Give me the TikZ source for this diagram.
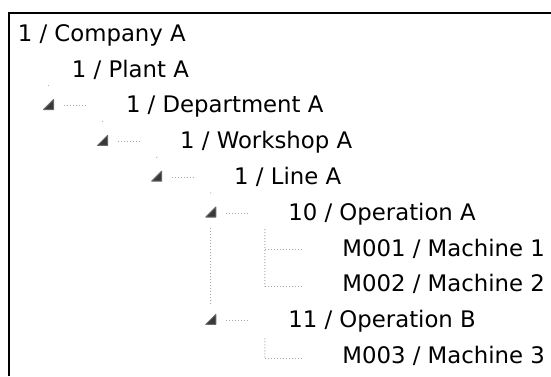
\documentclass[tikz,border=0pt]{standalone}
\usepackage{fontspec}
\setmainfont{DejaVu Sans}
\usetikzlibrary{calc}

\tikzset{
  item/.style={anchor=base west, inner sep=0pt, outer sep=0pt,
               font=\fontsize{22.8}{27}\selectfont, text=black},
  expander/.style={minimum width=11pt, minimum height=11pt, inner sep=0pt, outer sep=0pt},
  glyph/.style={fill=black!78, draw=black!60, line width=1pt, line join=round},
  treeline/.style={draw=black!35, line width=1pt, dash pattern=on 1pt off 2pt},
  stub/.style={fill=black!35},
  frameline/.style={line width=2.5pt, draw=black}
}

\begin{document}
\begin{tikzpicture}[x=1pt, y=-1pt]
  \useasboundingbox (0,0) rectangle (551,376);

  % outer frame (top and left edges)
  \draw[frameline] (9,376) -- (9,13) -- (551,13);

  % item labels: x = 17.8 + 54.1*level, baseline = 41.3 + 35.8*row
  \node[item] (t0) at (17.8, 41.3)  {1 / Company A};
  \node[item] (t1) at (71.9, 77.1)  {1 / Plant A};
  \node[item] (t2) at (126.0,112.9) {1 / Department A};
  \node[item] (t3) at (180.1,148.7) {1 / Workshop A};
  \node[item] (t4) at (234.2,184.5) {1 / Line A};
  \node[item] (t5) at (288.3,220.3) {10 / Operation A};
  \node[item] (t6) at (342.4,256.1) {M001 / Machine 1};
  \node[item] (t7) at (342.4,291.9) {M002 / Machine 2};
  \node[item] (t8) at (288.3,327.7) {11 / Operation B};
  \node[item] (t9) at (342.4,363.5) {M003 / Machine 3};

  % expanded-state glyphs (filled right triangles)
  \foreach \r in {2,3,4,5,8}{
    \node[expander] (e\r) at ($(t\r.base west)+(-77.5,-8.3)$) {};
    \draw[glyph] ($(e\r.center)+(-5,5)$) -- ++(10,0) -- ++(0,-10) -- cycle;
    % short stub towards the label, and the dot above the glyph
    \draw[treeline] ($(e\r.center)+(15,1)$) -- ++(22,0);
    \fill[stub] ($(e\r.center)+(0,-19)$) circle (0.6pt);
  }

  % sibling line between the two operations
  \draw[treeline] ($(e5.center)+(0,16)$) -- ($(e8.center)+(0,-16)$);

  % children of Operation A
  \coordinate (c6) at ($(t6.base west)+(-77.5,-6.3)$);
  \coordinate (c7) at ($(t7.base west)+(-77.5,-5.3)$);
  \draw[treeline] ($(e5.center)+(54.1,17)$) -- (c7);
  \draw[treeline] (c6) -- ++(37,0);
  \draw[treeline] (c7) -- ++(37,0);

  % child of Operation B
  \coordinate (c9) at ($(t9.base west)+(-77.5,-5.3)$);
  \draw[treeline] ($(e8.center)+(54.1,19)$) -- (c9);
  \draw[treeline] (c9) -- ++(37,0);
\end{tikzpicture}
\end{document}
